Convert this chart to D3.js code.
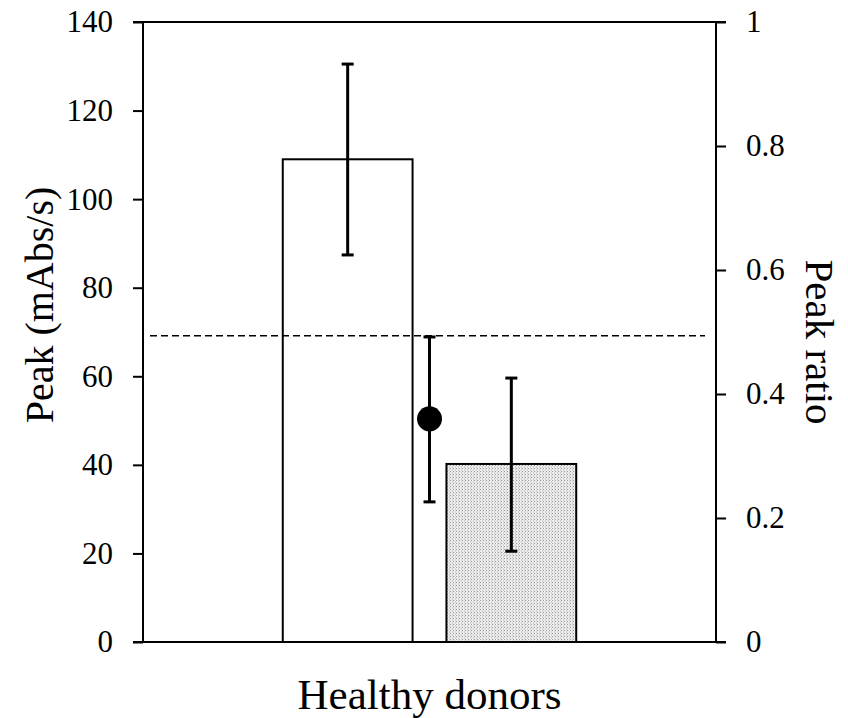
<!DOCTYPE html>
<html>
<head>
<meta charset="utf-8">
<script src="https://cdn.jsdelivr.net/npm/d3@7"></script>
<style>
  html, body { margin: 0; padding: 0; background: #fff; }
  svg { display: block; }
</style>
</head>
<body>
<svg id="chart" width="848" height="718"></svg>
<script>
// Peak values (mAbs/s) for the two bars, with error bar limits
const barKeys = ["first", "second"];
const barValues = [109, 40.2];
const barLow = [87.4, 20.5];
const barHigh = [130.5, 59.6];
const barFills = ["#ffffff", "url(#stipple)"];

// Peak ratio (right axis) point with its error limits
const ratioValue = 0.36;
const ratioLow = 0.226;
const ratioHigh = 0.492;

// Reference level on the ratio axis
const refRatio = 0.494;

const leftTicks = [0, 20, 40, 60, 80, 100, 120, 140];
const rightTicks = [0, 0.2, 0.4, 0.6, 0.8, 1];
const category = "Healthy donors";

const serif = "Liberation Serif, Times New Roman, serif";
const svg = d3.select("#chart");
const W = 848, H = 718;
const margin = { left: 143, right: W - 716, top: 22, bottom: H - 642 };
const x0 = margin.left, x1 = W - margin.right, y0 = H - margin.bottom, y1 = margin.top;

const yLeft = d3.scaleLinear().domain([0, 140]).range([y0, y1]);
const yRight = d3.scaleLinear().domain([0, 1]).range([y0, y1]);
const xBand = d3.scaleBand().domain(barKeys).range([x0, x1])
  .paddingInner(0.207).paddingOuter(0.854);

// stippled gray fill
const defs = svg.append("defs");
const pat = defs.append("pattern").attr("id", "stipple")
  .attr("patternUnits", "userSpaceOnUse").attr("width", 3).attr("height", 3);
pat.append("rect").attr("width", 3).attr("height", 3).attr("fill", "#ececec");
pat.append("rect").attr("x", 0).attr("y", 0).attr("width", 1).attr("height", 1).attr("fill", "#9a9a9a");
pat.append("rect").attr("x", 2).attr("y", 1.5).attr("width", 1).attr("height", 1).attr("fill", "#b5b5b5");

// bars
svg.selectAll("rect.bar").data(barKeys).enter().append("rect")
  .attr("class", "bar")
  .attr("x", d => xBand(d))
  .attr("width", xBand.bandwidth())
  .attr("y", (d, i) => yLeft(barValues[i]))
  .attr("height", (d, i) => yLeft(0) - yLeft(barValues[i]))
  .attr("fill", (d, i) => barFills[i])
  .attr("stroke", "#000").attr("stroke-width", 2);

// reference dashed line, drawn across the bars
svg.append("line")
  .attr("x1", x0 + 7).attr("x2", x1 - 11)
  .attr("y1", yRight(refRatio)).attr("y2", yRight(refRatio))
  .attr("stroke", "#000").attr("stroke-width", 1.6)
  .attr("stroke-dasharray", "7,4");

// bar error bars
const capW = 12;
barKeys.forEach((k, i) => {
  const cx = xBand(k) + xBand.bandwidth() / 2;
  const g = svg.append("g").attr("stroke", "#000");
  g.append("line").attr("x1", cx).attr("x2", cx)
    .attr("y1", yLeft(barLow[i])).attr("y2", yLeft(barHigh[i])).attr("stroke-width", 3);
  [barLow[i], barHigh[i]].forEach(v => {
    g.append("line").attr("x1", cx - capW / 2).attr("x2", cx + capW / 2)
      .attr("y1", yLeft(v)).attr("y2", yLeft(v)).attr("stroke-width", 3);
  });
});

// ratio point between the bars
const px = (xBand(barKeys[0]) + xBand.bandwidth() + xBand(barKeys[1])) / 2;
const gr = svg.append("g").attr("stroke", "#000");
gr.append("line").attr("x1", px).attr("x2", px)
  .attr("y1", yRight(ratioLow)).attr("y2", yRight(ratioHigh)).attr("stroke-width", 3);
[ratioLow, ratioHigh].forEach(v => {
  gr.append("line").attr("x1", px - capW / 2).attr("x2", px + capW / 2)
    .attr("y1", yRight(v)).attr("y2", yRight(v)).attr("stroke-width", 3);
});
svg.append("circle").attr("cx", px).attr("cy", yRight(ratioValue)).attr("r", 12.5).attr("fill", "#000");

// frame: top and bottom edges
const frame = svg.append("g").attr("stroke", "#000").attr("stroke-width", 2).attr("fill", "none");
frame.append("line").attr("x1", x0 - 10).attr("x2", x1 + 10).attr("y1", y1).attr("y2", y1);
frame.append("line").attr("x1", x0 - 10).attr("x2", x1 + 10).attr("y1", y0).attr("y2", y0);

const axisLeft = d3.axisLeft(yLeft).tickValues(leftTicks).tickSize(10).tickPadding(20)
  .tickFormat(d3.format("d"));
const gL = svg.append("g").attr("transform", `translate(${x0},0)`).call(axisLeft);

const axisRight = d3.axisRight(yRight).tickValues(rightTicks).tickSize(10).tickPadding(20)
  .tickFormat(d => String(d));
const gR = svg.append("g").attr("transform", `translate(${x1},0)`).call(axisRight);

[gL, gR].forEach(g => {
  g.attr("font-family", serif).attr("font-size", 31);
  g.select(".domain").attr("stroke-width", 2).attr("d", `M0,${y0}V${y1}`);
  g.selectAll(".tick line").attr("stroke-width", 2);
  g.selectAll(".tick text").attr("fill", "#000");
});

// axis titles
svg.append("text")
  .attr("transform", "translate(53,305) rotate(-90)")
  .attr("text-anchor", "middle")
  .attr("font-family", serif).attr("font-size", 40)
  .text("Peak (mAbs/s)");

svg.append("text")
  .attr("transform", "translate(806,342) rotate(90)")
  .attr("text-anchor", "middle")
  .attr("font-family", serif).attr("font-size", 41)
  .text("Peak ratio");

svg.append("text")
  .attr("x", (x0 + x1) / 2).attr("y", 709)
  .attr("text-anchor", "middle")
  .attr("font-family", serif).attr("font-size", 43)
  .text(category);
</script>
</body>
</html>
